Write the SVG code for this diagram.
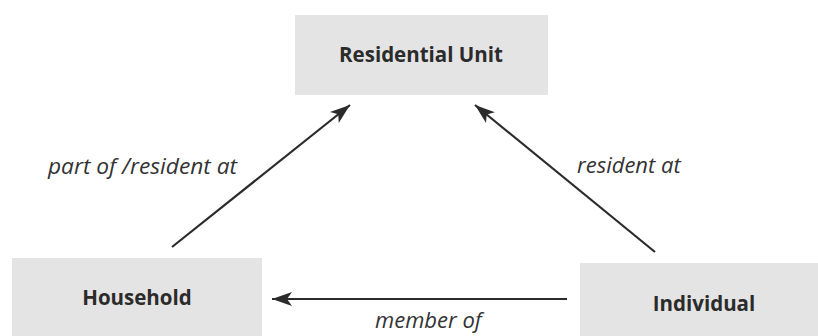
<svg xmlns="http://www.w3.org/2000/svg" width="818" height="336" viewBox="0 0 818 336">
<style>
.box{fill:#e4e4e4}
.nt{font-family:"Open Sans","Liberation Sans",sans-serif;font-weight:bold;font-size:20.5px;fill:#2b2b2b;text-anchor:middle}
.lt{font-family:"Open Sans","Liberation Sans",sans-serif;font-style:italic;font-size:22px;fill:#333}
.ln{stroke:#2b2b2b;stroke-width:2.2;fill:none;marker-end:url(#ah)}
</style>
<defs>
<marker id="ah" markerUnits="userSpaceOnUse" markerWidth="24" markerHeight="16" refX="20" refY="8" orient="auto" viewBox="0 0 24 16">
<path d="M0,1 L20,8 L0,15 L5,8 Z" fill="#2b2b2b"/>
</marker>
</defs>
<rect width="818" height="336" fill="#fff"/>
<g id="residential-unit"><rect class="box" x="295" y="15" width="253" height="80"/><text class="nt" x="421" y="62">Residential Unit</text></g>
<g id="household"><rect class="box" x="12" y="258" width="250" height="78"/><text class="nt" x="137" y="305">Household</text></g>
<g id="individual"><rect class="box" x="580" y="263" width="238" height="73"/><text class="nt" x="704" y="311">Individual</text></g>
<g id="connectors">
<line class="ln" x1="172" y1="247" x2="350" y2="105"/>
<line class="ln" x1="655" y1="252" x2="475" y2="105"/>
<line class="ln" x1="567" y1="299" x2="272" y2="299"/>
<text class="lt" x="48" y="174" textLength="189" lengthAdjust="spacingAndGlyphs">part of /resident at</text>
<text class="lt" x="577" y="173">resident at</text>
<text class="lt" x="375" y="328">member of</text>
</g>
</svg>
